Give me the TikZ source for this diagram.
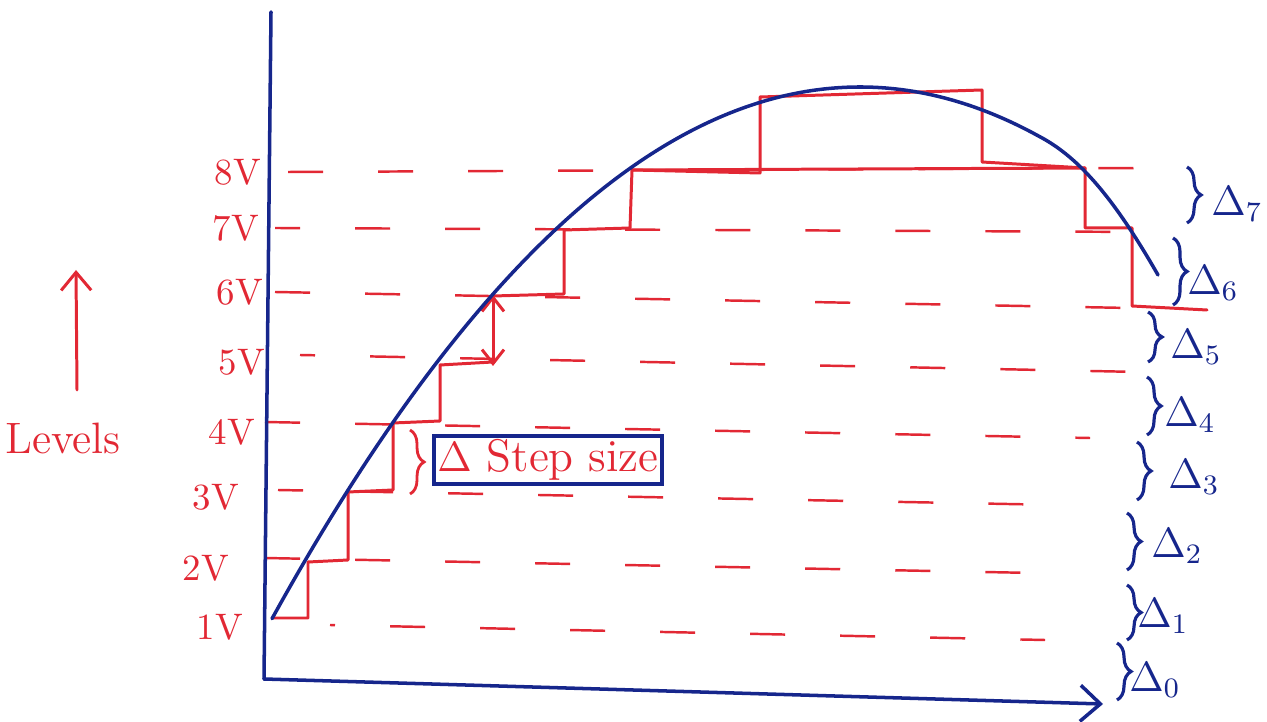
\documentclass[tikz,border=0pt]{standalone}
\usetikzlibrary{arrows.meta,decorations.pathreplacing}
\definecolor{hred}{RGB}{226,40,52}
\definecolor{hblue}{RGB}{22,38,140}
\tikzset{
 redline/.style={hred,line width=0.85pt,line join=round,line cap=round},
 blueline/.style={hblue,line width=1pt,line cap=round,line join=round},
 levelrow/.style={hred,line width=0.7pt,dash pattern=on 3.5mm off 5.5mm},
 lvl/.style={text=hred,font=\fontsize{10.5}{12}\selectfont,inner sep=0pt},
 dlabel/.style={text=hblue,font=\fontsize{12}{14}\selectfont,inner sep=0pt},
 bbrace/.style={hblue,line width=0.9pt,decorate,decoration={brace,amplitude=4pt}},
 rbrace/.style={hred,line width=0.8pt,decorate,decoration={brace,amplitude=4pt}},
 barb/.style={-{Straight Barb[length=1.8mm,width=3mm]}},
}
\begin{document}
\begin{tikzpicture}[x=0.01cm,y=-0.01cm]
\useasboundingbox (0,0) rectangle (1267,722);
% dashed level rows
\draw[levelrow,dash phase=0mm]   (288,172) -- (1145,168);
\draw[levelrow,dash phase=1mm]   (275,228) -- (1150,232);
\draw[levelrow,dash phase=0mm]   (275,292) -- (1130,308);
\draw[levelrow,dash phase=2mm]   (300,355) -- (1140,372);
\draw[levelrow,dash phase=0mm]   (265,422) -- (1090,438);
\draw[levelrow,dash phase=1mm]   (278,490) -- (1060,505);
\draw[levelrow,dash phase=0mm]   (265,558) -- (1035,573);
\draw[levelrow,dash phase=3mm]   (330,625) -- (1045,640);
% axes
\coordinate (O) at (264,679);
\coordinate (ytop) at (271,12);
\coordinate (xend) at (1103,704);
\draw[blueline] (O) -- (ytop);
\draw[blueline,-{Straight Barb[length=2mm,width=3.6mm]}] (O) -- (xend);
% staircase
\draw[redline] (272,618) -- (308,618) -- (308,562) -- (348,560) -- (348,492)
  -- (393,490) -- (393,423) -- (440,421) -- (440,365) -- (493,362);
\draw[redline] (493,296) -- (564,294) -- (564,230) -- (630,228) -- (632,170)
  -- (760,173) -- (760,97) -- (982,90) -- (982,162) -- (1085,168)
  -- (1085,228) -- (1132,228) -- (1132,306) -- (1207,310);
\draw[redline] (632,170) -- (1085,168);
\coordinate (da) at (493,366);
\coordinate (db) at (493,295);
\draw[redline,{Straight Barb[length=1.4mm,width=2.2mm]}-{Straight Barb[length=1.4mm,width=2.2mm]}] (da) -- (db);
% signal curve
\coordinate (cend) at (1158,275);
\draw[blueline] plot[domain=272:1040,samples=80,smooth] (\x,{((\x-860)/25.5)^2+87})
  .. controls (1080,158) and (1115,200) .. (cend);
% level labels
\node[lvl] (l8) at (238,172) {8V};
\node[lvl] (l7) at (236,228) {7V};
\node[lvl] (l6) at (240,292) {6V};
\node[lvl] (l5) at (242,362) {5V};
\node[lvl] (l4) at (232,432) {4V};
\node[lvl] (l3) at (216,497) {3V};
\node[lvl] (l2) at (206,568) {2V};
\node[lvl] (l1) at (220,627) {1V};
% Levels arrow
\node[lvl,font=\fontsize{12.5}{15}\selectfont] (levels) at (63,438) {Levels};
\coordinate (la1) at (77,390);
\coordinate (la2) at (76,270);
\draw[redline,barb] (la1) -- (la2);
% step size box
\node[draw=hblue,line width=1pt,text=hred,font=\fontsize{13}{15}\selectfont,
  minimum width=2.23cm,minimum height=0.4cm,inner sep=1pt] (step) at (548,460) {$\Delta$ Step size};
\draw[rbrace] (410,430) -- (410,494);
% right braces
\draw[bbrace] (1187,167) -- (1187,223);
\node[dlabel] (d7) at (1237,204) {$\Delta_7$};
\draw[bbrace] (1173,238) -- (1173,305);
\node[dlabel] (d6) at (1213,283) {$\Delta_6$};
\draw[bbrace] (1148,312) -- (1148,362);
\node[dlabel] (d5) at (1196,347) {$\Delta_5$};
\draw[bbrace] (1147,377) -- (1147,435);
\node[dlabel] (d4) at (1190,415) {$\Delta_4$};
\draw[bbrace] (1137,442) -- (1137,500);
\node[dlabel] (d3) at (1194,477) {$\Delta_3$};
\draw[bbrace] (1127,513) -- (1127,570);
\node[dlabel] (d2) at (1177,546) {$\Delta_2$};
\draw[bbrace] (1127,585) -- (1127,640);
\node[dlabel] (d1) at (1163,616) {$\Delta_1$};
\draw[bbrace] (1117,643) -- (1117,700);
\node[dlabel] (d0) at (1155,680) {$\Delta_0$};
\end{tikzpicture}
\end{document}
